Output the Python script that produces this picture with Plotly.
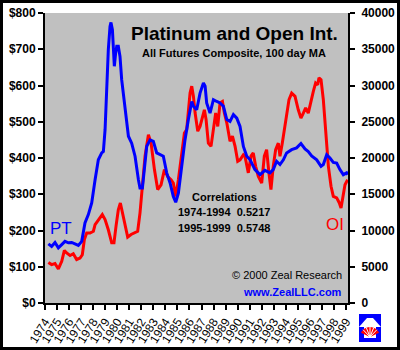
import plotly.graph_objects as go
import math

# ---- data ----
pt_year = [1974.28, 1974.55, 1974.83, 1975.11, 1975.39, 1975.66, 1975.94, 1976.22, 1976.49, 1976.77,
           1977.05, 1977.19, 1977.32, 1977.60, 1977.88, 1978.16, 1978.43, 1978.71, 1978.85, 1978.99,
           1979.12, 1979.26, 1979.40, 1979.48, 1979.60, 1979.68, 1979.76, 1979.87, 1979.96, 1980.09,
           1980.23, 1980.37, 1980.65, 1980.93, 1981.20, 1981.48, 1981.76, 1981.89, 1982.09, 1982.31,
           1982.45, 1982.73, 1983.00, 1983.28, 1983.56, 1983.83, 1984.11, 1984.39, 1984.66, 1984.86,
           1985.08, 1985.36, 1985.63, 1985.91, 1986.19, 1986.33, 1986.60, 1986.88, 1987.16, 1987.30,
           1987.43, 1987.71, 1987.99, 1988.27, 1988.54, 1988.82, 1989.10, 1989.37, 1989.65, 1989.93,
           1990.20, 1990.48, 1990.76, 1991.04, 1991.44, 1991.86, 1992.27, 1992.69, 1992.96, 1993.24,
           1993.52, 1993.80, 1994.07, 1994.49, 1994.90, 1995.26, 1995.60, 1995.87, 1996.15, 1996.57,
           1996.93, 1997.12, 1997.40, 1997.67, 1997.95, 1998.23, 1998.50, 1998.78, 1999.06, 1999.15]
pt_price = [163, 156, 167, 152, 161, 170, 166, 167, 163, 159,
            170, 193, 221, 244, 276, 340, 395, 414, 418, 478,
            616, 699, 763, 774, 754, 717, 653, 690, 708, 708,
            680, 616, 533, 460, 441, 405, 340, 317, 317, 377,
            432, 450, 446, 414, 409, 405, 359, 331, 294, 278,
            303, 377, 450, 506, 556, 543, 533, 579, 607, 598,
            552, 524, 561, 556, 552, 543, 506, 501, 520, 510,
            487, 432, 405, 395, 368, 354, 366, 359, 368, 391,
            382, 395, 414, 423, 428, 440, 425, 418, 406, 395,
            377, 382, 409, 400, 388, 386, 368, 354, 359, 354]

oi_year = [1974.28, 1974.55, 1974.83, 1975.11, 1975.39, 1975.61, 1975.80, 1976.08, 1976.35, 1976.63,
           1976.91, 1977.10, 1977.27, 1977.46, 1977.74, 1978.02, 1978.16, 1978.43, 1978.76, 1978.99,
           1979.26, 1979.54, 1979.73, 1979.90, 1980.09, 1980.26, 1980.43, 1980.65, 1980.87, 1981.15,
           1981.42, 1981.70, 1981.89, 1982.09, 1982.31, 1982.59, 1982.81, 1983.09, 1983.36, 1983.64,
           1983.92, 1984.19, 1984.47, 1984.66, 1984.86, 1985.08, 1985.36, 1985.58, 1985.77, 1985.91,
           1986.05, 1986.19, 1986.33, 1986.47, 1986.69, 1986.88, 1987.07, 1987.24, 1987.38, 1987.57,
           1987.79, 1987.99, 1988.18, 1988.35, 1988.54, 1988.74, 1988.90, 1989.10, 1989.37, 1989.57,
           1989.79, 1990.01, 1990.20, 1990.48, 1990.61, 1990.89, 1991.11, 1991.30, 1991.50, 1991.72,
           1992.00, 1992.22, 1992.41, 1992.60, 1992.77, 1992.96, 1993.16, 1993.38, 1993.52, 1993.71,
           1993.88, 1994.07, 1994.27, 1994.49, 1994.77, 1995.04, 1995.26, 1995.46, 1995.65, 1995.87,
           1996.09, 1996.29, 1996.48, 1996.65, 1996.76, 1996.93, 1997.12, 1997.26, 1997.40, 1997.54,
           1997.76, 1997.95, 1998.23, 1998.45, 1998.59, 1998.73, 1998.92, 1999.14]
oi_contracts = [5600, 5300, 5450, 4700, 5750, 7250, 6900, 6550, 6800, 6000,
                6200, 6650, 8750, 9650, 9650, 9900, 10800, 11400, 12200, 11500,
                10100, 8300, 8300, 10600, 12850, 13800, 12400, 10600, 9100, 9450,
                9650, 9900, 12400, 16100, 20250, 23200, 22050, 18400, 15650, 16300,
                18400, 17450, 17000, 16550, 14700, 17000, 20700, 23450, 23900, 26200,
                28950, 29900, 28500, 26200, 23700, 24350, 25750, 26650, 25300, 22050,
                21600, 24350, 26200, 24350, 27600, 27800, 26200, 24850, 22300, 23000,
                21600, 19550, 19750, 20450, 20250, 17950, 20250, 20700, 18850, 17450,
                16550, 20250, 21150, 17950, 15650, 18850, 21150, 22050, 20250, 22050,
                23900, 26200, 28050, 28950, 28500, 26650, 25500, 26200, 26900, 26200,
                28050, 29200, 30350, 30100, 31050, 30800, 28050, 24850, 22050, 18850,
                16100, 14700, 14500, 13800, 13100, 14700, 16300, 17000]

year_ticks = list(range(1974, 2000))
year_labels = [str(y) for y in year_ticks]
price_ticks = [0, 100, 200, 300, 400, 500, 600, 700, 800]
price_labels = ["$0", "$100", "$200", "$300", "$400", "$500", "$600", "$700", "$800"]
oi_ticks = [0, 5000, 10000, 15000, 20000, 25000, 30000, 35000, 40000]
oi_labels = ["0", "5000", "10000", "15000", "20000", "25000", "30000", "35000", "40000"]

FONT = "Liberation Sans, Arial, sans-serif"
W, H = 400, 350
ML, MR, MT, MB = 45, 52, 13, 47
PW, PH = W - ML - MR, H - MT - MB


def px(x):
    return (x - ML) / PW


def py(y):
    return (H - MB - y) / PH


fig = go.Figure()
fig.add_trace(go.Scatter(x=oi_year, y=oi_contracts, mode="lines", yaxis="y",
                         line=dict(color="#FF0000", width=3), name="OI"))
fig.add_trace(go.Scatter(x=pt_year, y=pt_price, mode="lines", yaxis="y2",
                         line=dict(color="#0000FF", width=3), name="PT"))

axis_common = dict(showline=True, linecolor="black", linewidth=2, ticks="outside",
                   ticklen=5, tickwidth=1.5, tickcolor="black", showgrid=False,
                   zeroline=False, automargin=False)

fig.update_layout(
    width=W, height=H,
    margin=dict(l=ML, r=MR, t=MT, b=MB, pad=0),
    paper_bgcolor="white", plot_bgcolor="#C0C0C0",
    showlegend=False,
    xaxis=dict(range=[1974, 1999.17], tickvals=year_ticks, ticktext=year_labels,
               tickangle=-58, tickfont=dict(family=FONT, size=12, color="black"),
               **axis_common),
    yaxis=dict(range=[0, 40000], tickvals=oi_ticks, ticktext=oi_labels, side="right",
               tickfont=dict(family=FONT, size=12, color="black", weight="bold"),
               ticklabelstandoff=4, **axis_common),
    yaxis2=dict(range=[0, 800], tickvals=price_ticks, ticktext=price_labels, side="left",
                overlaying="y",
                tickfont=dict(family=FONT, size=12, color="black", weight="bold"),
                **axis_common),
)

NB = "\u00a0"
ann = [
    dict(text="<b>Platinum and Open Int.</b>", x=px(234), y=py(33), size=19, color="black"),
    dict(text="<b>All Futures Composite, 100 day MA</b>", x=px(234), y=py(53), size=11, color="black"),
    dict(text="<b>Correlations</b>", x=px(224), y=py(197), size=11, color="black"),
    dict(text="<b>1974-1994" + NB * 2 + "0.5217</b>", x=px(224), y=py(212), size=11, color="black"),
    dict(text="<b>1995-1999" + NB * 2 + "0.5748</b>", x=px(224), y=py(228), size=11, color="black"),
    dict(text="PT", x=px(61), y=py(229), size=17, color="#0000FF"),
    dict(text="OI", x=px(335), y=py(224), size=17, color="#FF0000"),
]
for a in ann:
    fig.add_annotation(text=a["text"], x=a["x"], y=a["y"], xref="paper", yref="paper",
                       showarrow=False, xanchor="center", yanchor="middle",
                       font=dict(family=FONT, size=a["size"], color=a["color"]))

fig.add_annotation(text="\u00a9 2000 Zeal Research", x=px(344), y=py(275), xref="paper", yref="paper",
                   showarrow=False, xanchor="right", yanchor="middle",
                   font=dict(family=FONT, size=11, color="black"))
fig.add_annotation(text="<b>www.ZealLLC.com</b>", x=px(344), y=py(292), xref="paper", yref="paper",
                   showarrow=False, xanchor="right", yanchor="middle",
                   font=dict(family=FONT, size=11, color="#0000FF"))

shapes = []
# outer black frame
shapes.append(dict(type="rect", xref="paper", yref="paper", x0=px(0), x1=px(W), y0=py(H), y1=py(0),
                   line=dict(color="black", width=6), fillcolor="rgba(0,0,0,0)", layer="above"))


def poly(points, color):
    d = "M " + " L ".join(f"{px(x)},{py(y)}" for x, y in points) + " Z"
    return dict(type="path", xref="paper", yref="paper", path=d, fillcolor=color,
                line=dict(width=0), layer="above")


BL, RD = "#0000FF", "#FF0000"
# logo (approximate)
shapes.append(poly([(359, 314), (381, 314), (381, 318), (359, 318)], BL))
shapes.append(poly([(359, 318), (367, 318), (359, 327)], BL))
shapes.append(poly([(373, 318), (381, 318), (381, 327)], BL))
shapes.append(poly([(359, 327), (364, 327), (364, 342), (359, 342)], BL))
shapes.append(poly([(376, 327), (381, 327), (381, 342), (376, 342)], BL))
shapes.append(poly([(359, 338), (381, 338), (381, 342), (359, 342)], BL))
# red fan
cx, cy, r = 370, 337, 10
fan = [(cx, cy)]
for k in range(0, 13):
    ang = math.radians(25 + k * 130 / 12)
    fan.append((cx + r * math.cos(ang), cy - r * math.sin(ang)))
shapes.append(poly(fan, RD))
for k in range(1, 6):
    ang = math.radians(25 + k * 130 / 6)
    shapes.append(dict(type="line", xref="paper", yref="paper", x0=px(cx), y0=py(cy),
                       x1=px(cx + r * math.cos(ang)), y1=py(cy - r * math.sin(ang)),
                       line=dict(color="white", width=1), layer="above"))

fig.update_layout(shapes=shapes)

fig.write_html("out.html")
